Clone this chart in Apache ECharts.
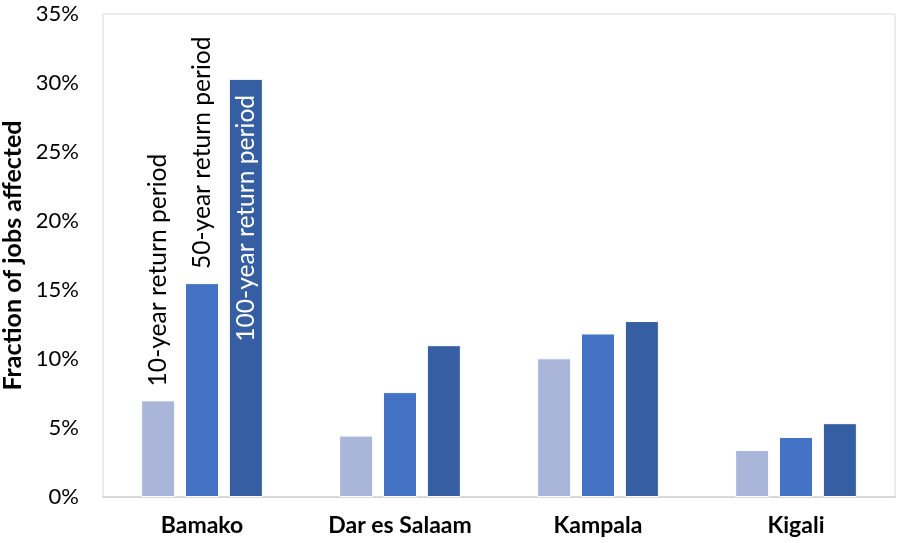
<!DOCTYPE html>
<html>
<head>
<meta charset="utf-8">
<script src="https://cdn.jsdelivr.net/npm/echarts@6/dist/echarts.min.js"></script>
<style>
  html, body { margin: 0; padding: 0; background: #fff; }
  #chart { width: 899px; height: 543px; }
</style>
</head>
<body>
<div id="chart"></div>
<script>
// Cities on the x axis
const cities = ['Bamako', 'Dar es Salaam', 'Kampala', 'Kigali'];

// Fraction of jobs affected (%) per flood return period
const rp10 = [7.0, 4.45, 10.05, 3.4];
const rp50 = [15.5, 7.6, 11.85, 4.35];
const rp100 = [30.3, 11.0, 12.75, 5.35];

const seriesNames = ['10-year return period', '50-year return period', '100-year return period'];
const yTicks = { min: 0, max: 35, interval: 5 };

const FONT = 'Lato';
const chart = echarts.init(document.getElementById('chart'));

// Only the first city carries the rotated series labels
function firstOnly(values, label) {
  return values.map((v, i) => i === 0 ? { value: v, label: label } : { value: v });
}

const labelBase = { show: true, rotate: 90, fontFamily: FONT, fontSize: 24.6, formatter: '{a}' };

chart.setOption({
  animation: false,
  textStyle: { fontFamily: FONT },
  grid: {
    left: 103, right: 4, top: 14, bottom: 46,
    containLabel: false, outerBoundsMode: 'none',
    show: true, borderColor: '#d9d9d9', borderWidth: 1
  },
  xAxis: {
    type: 'category',
    data: cities,
    axisLine: { lineStyle: { color: '#d9d9d9', width: 2 } },
    axisTick: { show: false },
    axisLabel: { color: '#000', fontWeight: 'bold', fontSize: 23, fontFamily: FONT, margin: 17 }
  },
  yAxis: {
    type: 'value',
    min: yTicks.min, max: yTicks.max, interval: yTicks.interval,
    name: 'Fraction of jobs affected',
    nameLocation: 'middle',
    nameGap: 76,
    nameTextStyle: { color: '#000', fontWeight: 'bold', fontSize: 25, fontFamily: FONT },
    splitLine: { show: false },
    axisLine: { show: false },
    axisTick: { show: false },
    axisLabel: { color: '#000', fontSize: 22, fontFamily: FONT, margin: 24, formatter: v => v + '%' }
  },
  series: [
    {
      name: seriesNames[0], type: 'bar', barWidth: 34, barGap: '29%',
      itemStyle: { color: '#a9b6da', borderColor: '#fff', borderWidth: 1 },
      data: firstOnly(rp10, Object.assign({}, labelBase, { position: 'top', align: 'left', verticalAlign: 'middle', distance: 14, color: '#000' }))
    },
    {
      name: seriesNames[1], type: 'bar', barWidth: 34, barGap: '29%',
      itemStyle: { color: '#4472c4', borderColor: '#fff', borderWidth: 1 },
      data: firstOnly(rp50, Object.assign({}, labelBase, { position: 'top', align: 'left', verticalAlign: 'middle', distance: 14, color: '#000' }))
    },
    {
      name: seriesNames[2], type: 'bar', barWidth: 34, barGap: '29%',
      itemStyle: { color: '#365ea2', borderColor: '#fff', borderWidth: 1 },
      data: firstOnly(rp100, Object.assign({}, labelBase, { position: 'insideTop', align: 'right', verticalAlign: 'middle', distance: 16, color: '#fff' }))
    }
  ]
});
</script>
</body>
</html>
